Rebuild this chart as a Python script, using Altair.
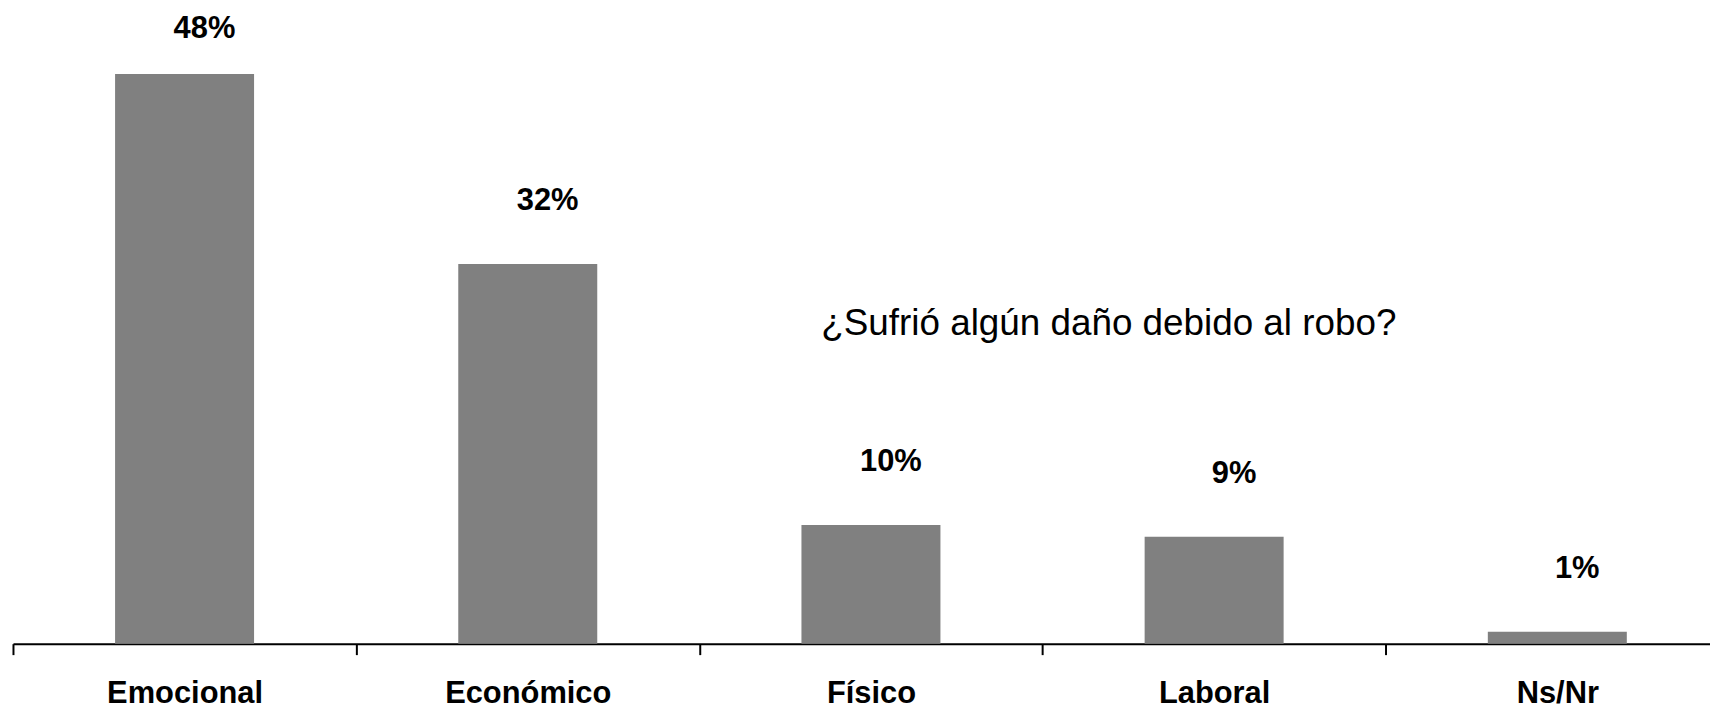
import altair as alt
import pandas as pd

categories = ["Emocional", "Económico", "Físico", "Laboral", "Ns/Nr"]
values = [48, 32, 10, 9, 1]
value_labels = ["48%", "32%", "10%", "9%", "1%"]
title_text = ["¿Sufrió algún daño debido al robo?"]

df = pd.DataFrame({"cat": categories, "v": values, "lab": value_labels})
FONT = "Liberation Sans, Arial, sans-serif"

x_enc = alt.X(
    "cat:N",
    sort=categories,
    title=None,
    scale=alt.Scale(range=[0, 1724], paddingInner=0, paddingOuter=0),
    axis=alt.Axis(
        tickBand="extent",
        labelAngle=0,
        domainColor="black",
        domainWidth=2,
        tickColor="black",
        tickWidth=2,
        tickSize=11,
        labelFont=FONT,
        labelFontSize=31,
        labelFontWeight="bold",
        labelColor="black",
        labelBaseline="alphabetic",
        labelPadding=48,
    ),
)
y_scale = alt.Scale(domain=[0, 53])

base = alt.Chart(df)

bars = base.mark_bar(color="#808080", width={"band": 0.405}).encode(
    x=x_enc,
    y=alt.Y("v:Q", scale=y_scale, axis=None),
)

texts = base.transform_calculate(
    ly="min(datum.v + 5.3, 51.8)"
).mark_text(
    font=FONT, fontSize=31, fontWeight="bold", color="black", baseline="middle", dx=20
).encode(
    x=alt.X("cat:N", sort=categories),
    y=alt.Y("ly:Q", scale=y_scale),
    text="lab:N",
)

title = alt.Chart(pd.DataFrame({"t": title_text})).mark_text(
    font=FONT, fontSize=37, color="black", baseline="middle", align="center"
).encode(
    x=alt.value(1101),
    y=alt.value(311),
    text="t:N",
)

chart = alt.layer(bars, texts, title).properties(
    width=1705,
    height=632,
    autosize=alt.AutoSizeParams(type="none"),
    padding={"left": 5, "top": 5, "right": 0, "bottom": 72},
    background="white",
).configure_view(stroke=None)

chart.save("out.html", embed_options={"renderer": "svg", "actions": False})
